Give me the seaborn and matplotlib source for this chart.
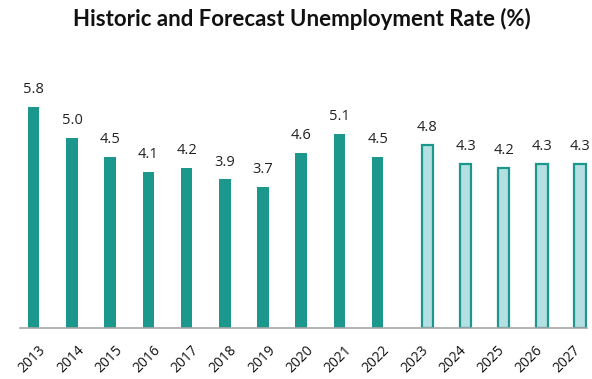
import matplotlib
matplotlib.use("Agg")
import matplotlib.pyplot as plt
import matplotlib.transforms as mtransforms
import seaborn as sns
import pandas as pd

years = ["2013", "2014", "2015", "2016", "2017", "2018", "2019", "2020",
         "2021", "2022", "2023", "2024", "2025", "2026", "2027"]
rates = [5.8, 5.0, 4.5, 4.1, 4.2, 3.9, 3.7, 4.6, 5.1, 4.5, 4.8, 4.3, 4.2, 4.3, 4.3]
kinds = ["Historic"] * 10 + ["Forecast"] * 5

TEAL = "#1B988B"
LIGHT = "#B4E0E3"

df = pd.DataFrame({"year": years, "rate": rates, "kind": kinds})

sns.set_theme(style="white")
plt.rcParams["font.family"] = ["Open Sans", "DejaVu Sans"]

fig = plt.figure(figsize=(5.92, 3.79), dpi=100)
ax = fig.add_axes([20 / 592, 51 / 379, 567 / 592, 7.0 * 38.1 / 379])

# Historic and forecast series share each year slot side by side
sns.barplot(data=df, x="year", y="rate", hue="kind", dodge=True,
            hue_order=["Historic", "Forecast"],
            palette={"Historic": TEAL, "Forecast": LIGHT},
            width=0.6, legend=False, ax=ax, saturation=1)

for cont, lvl in zip(ax.containers, ["Historic", "Forecast"]):
    for p in cont.patches:
        if lvl == "Forecast":
            p.set_edgecolor(TEAL)
            p.set_linewidth(1.6)
        else:
            p.set_edgecolor("none")
    ax.bar_label(cont, fmt="%.1f", padding=7, fontsize=10.5, color="#222222")

ax.set_xlim(-0.51, 14.33)
ax.set_ylim(0, 7.0)
ax.set_xlabel("")
ax.set_ylabel("")
ax.set_yticks([])
for side in ["top", "right", "left"]:
    ax.spines[side].set_visible(False)
ax.spines["bottom"].set_color("#A6A6A6")
ax.spines["bottom"].set_linewidth(1.2)

ax.tick_params(axis="x", length=0, pad=4, labelsize=10, colors="#111111")
offset = mtransforms.ScaledTranslation(-1 / 100, -9 / 100, fig.dpi_scale_trans)
for lab in ax.get_xticklabels():
    lab.set_rotation(45)
    lab.set_ha("right")
    lab.set_va("top")
    lab.set_rotation_mode("anchor")
    lab.set_transform(lab.get_transform() + offset)

fig.suptitle("Historic and Forecast Unemployment Rate (%)", x=302 / 592, y=1 - 8 / 379,
             fontsize=16, fontweight="bold", color="#111111", va="top",
             family=["Lato", "DejaVu Sans"])

fig.savefig("out.png", dpi=100, facecolor="white")
